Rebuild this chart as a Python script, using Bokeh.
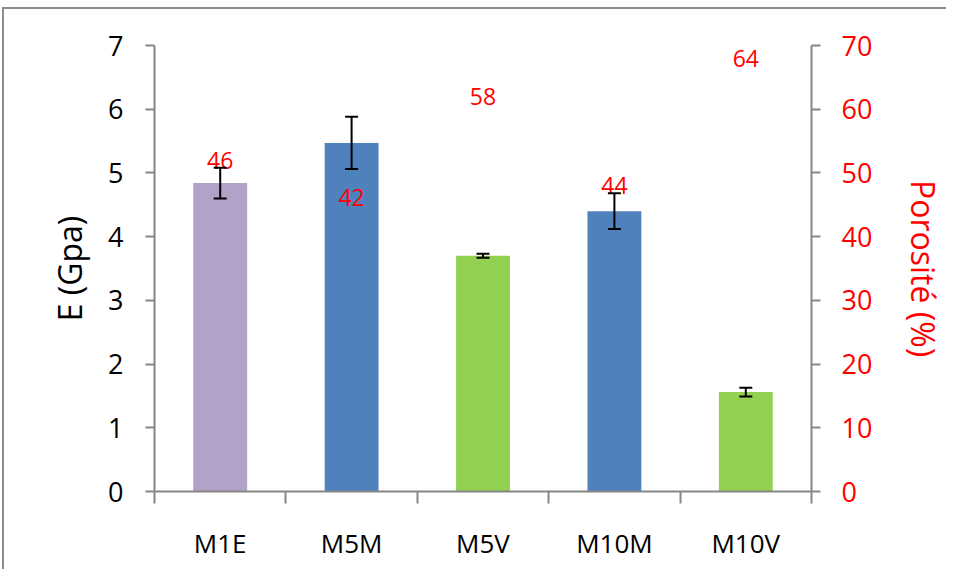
from bokeh.plotting import figure
from bokeh.models import (ColumnDataSource, Range1d, LinearAxis, FixedTicker,
                          Whisker, TeeHead, Spacer)
from bokeh.layouts import column, row
from bokeh.embed import file_html
from bokeh.resources import INLINE
from bokeh.core.properties import value

categories = ["M1E", "M5M", "M5V", "M10M", "M10V"]
modulus_gpa = [4.84, 5.47, 3.70, 4.40, 1.56]
modulus_err = [0.24, 0.41, 0.03, 0.28, 0.07]
porosity_pct = [46, 42, 58, 44, 64]
porosity_labels = ["46", "42", "58", "44", "64"]
bar_colors = ["#B3A2C7", "#4F81BD", "#92D050", "#4F81BD", "#92D050"]
label_offsets = [-38, -26, -25, -26, -25]
left_ticks = [0, 1, 2, 3, 4, 5, 6, 7]
right_ticks = [0, 10, 20, 30, 40, 50, 60, 70]

FONT = "Open Sans"
AXIS_GRAY = "#868686"

# category slot centres on a numeric axis (slot i spans [i, i+1])
centers = [i + 0.5 for i in range(len(categories))]
bounds = list(range(len(categories) + 1))

src = ColumnDataSource(dict(
    x=centers,
    cat=categories,
    e=modulus_gpa,
    upper=[v + d for v, d in zip(modulus_gpa, modulus_err)],
    lower=[v - d for v, d in zip(modulus_gpa, modulus_err)],
    color=bar_colors,
    por=porosity_pct,
    plabel=porosity_labels,
    yoff=label_offsets,
))

p = figure(width=936, height=560, x_range=Range1d(0, len(categories)),
           y_range=Range1d(0, 7), output_backend="svg", toolbar_location=None,
           x_axis_location=None, y_axis_location=None,
           min_border_left=150, min_border_right=131, min_border_top=36, min_border_bottom=80)
p.frame_width = 655
p.frame_height = 444
p.outline_line_color = None
p.xgrid.visible = False
p.ygrid.visible = False
p.background_fill_color = "white"
p.border_fill_color = "white"
p.styles = {"border-left": "2px solid #8c8c8c", "border-top": "2px solid #8c8c8c"}

p.extra_y_ranges = {"por": Range1d(0, 70)}

p.vbar(x="x", top="e", width=0.41, fill_color="color", line_color=None, source=src)

whisk = Whisker(base="x", upper="upper", lower="lower", source=src, line_width=2,
                line_color="black", level="overlay",
                upper_head=TeeHead(size=13, line_width=2, line_color="black"),
                lower_head=TeeHead(size=13, line_width=2, line_color="black"))
p.add_layout(whisk)

p.text(x="x", y="por", text="plabel", y_range_name="por", source=src,
       text_color="#FF0000", text_font=value(FONT), text_font_size="23px",
       text_align="center", text_baseline="middle", y_offset="yoff")

# left axis
la = LinearAxis(ticker=FixedTicker(ticks=left_ticks), axis_label="E (Gpa)")
la.axis_line_color = AXIS_GRAY
la.axis_line_width = 2
la.major_tick_line_color = AXIS_GRAY
la.major_tick_line_width = 2
la.major_tick_out = 9
la.major_tick_in = 0
la.minor_tick_line_color = None
la.major_label_text_font = FONT
la.major_label_text_font_size = "27px"
la.major_label_text_color = "black"
la.major_label_standoff = 22
la.axis_label_text_font = FONT
la.axis_label_text_font_size = "32px"
la.axis_label_text_font_style = "normal"
la.axis_label_text_color = "black"
la.axis_label_standoff = 14
p.add_layout(la, "left")

# right axis
ra = LinearAxis(y_range_name="por", ticker=FixedTicker(ticks=right_ticks), axis_label="Porosité (%)")
ra.axis_line_color = AXIS_GRAY
ra.axis_line_width = 2
ra.major_tick_line_color = AXIS_GRAY
ra.major_tick_line_width = 2
ra.major_tick_out = 9
ra.major_tick_in = 0
ra.minor_tick_line_color = None
ra.major_label_text_font = FONT
ra.major_label_text_font_size = "27px"
ra.major_label_text_color = "#FF0000"
ra.major_label_standoff = 21
ra.axis_label_text_font = FONT
ra.axis_label_text_font_size = "32px"
ra.axis_label_text_font_style = "normal"
ra.axis_label_text_color = "#FF0000"
ra.axis_label_standoff = 27
p.add_layout(ra, "right")

# bottom axis: ticks at category boundaries, labels at centres
ba = LinearAxis(ticker=FixedTicker(ticks=centers, minor_ticks=bounds))
ba.major_label_overrides = {c: name for c, name in zip(centers, categories)}
ba.axis_line_color = AXIS_GRAY
ba.axis_line_width = 2
ba.major_tick_line_color = None
ba.major_tick_out = 0
ba.minor_tick_line_color = AXIS_GRAY
ba.minor_tick_line_width = 2
ba.minor_tick_out = 12
ba.minor_tick_in = 0
ba.major_label_text_font = FONT
ba.major_label_text_font_size = "26px"
ba.major_label_text_color = "black"
ba.major_label_standoff = 21
p.add_layout(ba, "below")

layout = column(Spacer(height=7), row(Spacer(width=2), p))
open("out.html", "w").write(file_html(layout, INLINE))
